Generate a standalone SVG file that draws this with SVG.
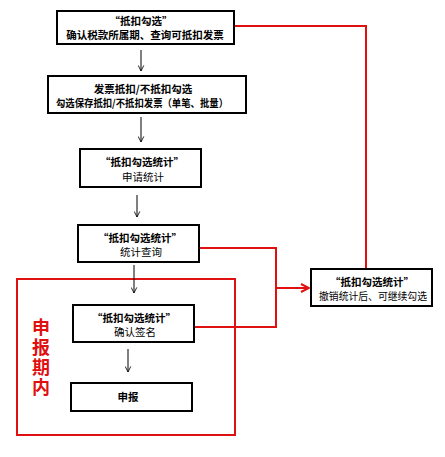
<svg xmlns="http://www.w3.org/2000/svg" width="445" height="457" viewBox="0 0 445 457">
<defs>
<style>
.box{fill:#fff;stroke:#000;stroke-width:2}
.t{font-family:"Noto Sans CJK SC","Liberation Sans",sans-serif;font-size:10.5px;fill:#000;text-anchor:middle}
.b{font-weight:bold}
.ar{fill:none;stroke:#000;stroke-width:1}
.red{fill:none;stroke:#e01010;stroke-width:2}
</style>
<marker id="ah" viewBox="0 0 10 10" refX="9" refY="5" markerWidth="7" markerHeight="7" orient="auto" markerUnits="userSpaceOnUse">
<path d="M1,1 L9,5 L1,9" fill="none" stroke="#000" stroke-width="1.2"/>
</marker>
<marker id="rh" viewBox="0 0 10 10" refX="9" refY="5" markerWidth="10" markerHeight="10" orient="auto" markerUnits="userSpaceOnUse">
<path d="M1,1 L9,5 L1,9" fill="none" stroke="#e01010" stroke-width="2"/>
</marker>
</defs>
<rect width="445" height="457" fill="#fff"/>
<g id="region">
<rect x="17" y="279" width="218" height="156" class="red"/>
<text x="41" y="318" writing-mode="vertical-rl" letter-spacing="2" font-family="Noto Sans CJK SC,Liberation Sans,sans-serif" font-size="18" font-weight="bold" fill="#e01010">申报期内</text>
</g>
<g id="connectors">
<line x1="141" y1="50" x2="141" y2="71" class="ar" marker-end="url(#ah)"/>
<line x1="141" y1="117" x2="141" y2="142" class="ar" marker-end="url(#ah)"/>
<line x1="137" y1="195" x2="137" y2="217" class="ar" marker-end="url(#ah)"/>
<line x1="134" y1="265" x2="134" y2="293" class="ar" marker-end="url(#ah)"/>
<line x1="128" y1="349" x2="128" y2="372" class="ar" marker-end="url(#ah)"/>
<polyline points="199,248 276,248 276,327 194,327" class="red"/>
<line x1="276" y1="288" x2="309" y2="288" class="red" marker-end="url(#rh)"/>
<polyline points="366,269 366,26 235,26" class="red"/>
</g>
<g id="n1">
<rect x="57" y="11" width="177" height="33" class="box"/>
<text x="141" y="25" class="t b">“抵扣勾选”</text>
<text x="145" y="39" class="t b">确认税款所属期、查询可抵扣发票</text>
</g>
<g id="n2">
<rect x="48" y="76" width="198" height="37" class="box"/>
<text x="143" y="93" class="t b">发票抵扣/不抵扣勾选</text>
<text x="142" y="107" class="t b" font-size="9.5" textLength="172" lengthAdjust="spacingAndGlyphs">勾选保存抵扣/不抵扣发票（单笔、批量）</text>
</g>
<g id="n3">
<rect x="80" y="149" width="121" height="38" class="box"/>
<text x="142" y="166" class="t b">“抵扣勾选统计”</text>
<text x="143" y="181" class="t" font-size="10">申请统计</text>
</g>
<g id="n4">
<rect x="78" y="225" width="121" height="37" class="box"/>
<text x="140" y="242" class="t b">“抵扣勾选统计”</text>
<text x="141" y="256" class="t" font-size="10">统计查询</text>
</g>
<g id="n5">
<rect x="311" y="269" width="121" height="37" class="box"/>
<text x="372" y="286" class="t b">“抵扣勾选统计”</text>
<text x="373" y="300" class="t" font-size="9.5" textLength="108" lengthAdjust="spacingAndGlyphs">撤销统计后、可继续勾选</text>
</g>
<g id="n6">
<rect x="73" y="305" width="121" height="37" class="box"/>
<text x="134" y="322" class="t b">“抵扣勾选统计”</text>
<text x="135" y="336" class="t" font-size="10">确认签名</text>
</g>
<g id="n7">
<rect x="71" y="383" width="121" height="28" class="box"/>
<text x="128" y="401" class="t b">申报</text>
</g>
</svg>
